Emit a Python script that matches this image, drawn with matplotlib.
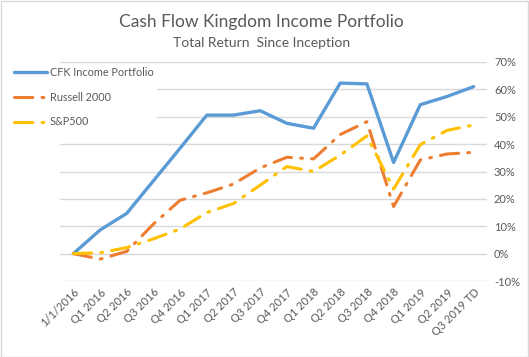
import matplotlib
matplotlib.use("Agg")
import matplotlib.pyplot as plt
from matplotlib.patches import Rectangle

categories = ["1/1/2016", "Q1 2016", "Q2 2016", "Q3 2016", "Q4 2016", "Q1 2017",
              "Q2 2017", "Q3 2017", "Q4 2017", "Q1 2018", "Q2 2018", "Q3 2018",
              "Q4 2018", "Q1 2019", "Q2 2019", "Q3 2019 TD"]
cfk = [0, 8.6, 14.7, 26.6, 38.5, 50.6, 50.6, 52.2, 47.6, 45.8, 62.3, 62.0, 33.3, 54.4, 57.4, 61.0]
russell = [0, -2.0, 0.8, 10.8, 19.5, 22.2, 25.4, 31.3, 35.2, 34.6, 43.5, 48.2, 17.2, 34.2, 36.4, 37.0]
sp500 = [0, 0.3, 2.2, 5.4, 9.0, 15.0, 18.3, 25.0, 31.8, 30.0, 36.0, 43.0, 23.6, 39.8, 45.0, 47.0]
yticks = [-10, 0, 10, 20, 30, 40, 50, 60, 70]

plt.rcParams['font.family'] = ['Lato', 'DejaVu Sans']
grey = "#595959"

fig = plt.figure(figsize=(5.29, 3.57), dpi=100)
ax = fig.add_axes([60/529, 1-281/357, 427/529, 219/357])

x = list(range(len(categories)))
l1, = ax.plot(x, cfk, color="#5B9BD5", lw=2.4, solid_capstyle="round", label="CFK Income Portfolio")
l2, = ax.plot(x, russell, color="#ED7D31", lw=2.2, linestyle=(0, (6, 3, 0.6, 3)),
              dash_capstyle="round", label="Russell 2000")
l3, = ax.plot(x, sp500, color="#FFC000", lw=2.2, linestyle=(0, (6, 3, 0.6, 3)),
              dash_capstyle="round", label="S&P500")

ax.set_xlim(-0.5, len(categories) - 0.5)
ax.set_ylim(-10, 70)
ax.set_yticks(yticks)
ax.set_yticklabels([f"{v}%" for v in yticks])
ax.yaxis.tick_right()
ax.set_xticks(x)
ax.set_xticklabels(categories, rotation=45, ha="right", rotation_mode="anchor")
ax.tick_params(axis="both", length=0, colors=grey, labelsize=8)
ax.tick_params(axis="y", pad=5)
ax.tick_params(axis="x", pad=4)
ax.grid(axis="y", color="#D9D9D9", lw=1)
ax.set_axisbelow(True)
for s in ax.spines.values():
    s.set_visible(False)

fig.text(0.495, 1-22/357, "Cash Flow Kingdom Income Portfolio", ha="center", va="center",
         fontsize=12.5, color=grey)
fig.text(0.495, 1-43/357, "Total Return  Since Inception", ha="center", va="center",
         fontsize=10, color=grey)

leg = fig.legend(handles=[l1, l2, l3], loc="upper left", bbox_to_anchor=(11/529, 1-64/357),
                 frameon=True, fontsize=7.8, handlelength=3.0, handletextpad=0.3,
                 labelspacing=1.25, borderpad=0.3, borderaxespad=0)
leg.get_frame().set_facecolor("white")
leg.get_frame().set_edgecolor("none")
leg.get_frame().set_alpha(1)
for t in leg.get_texts():
    t.set_color(grey)

fig.patches.append(Rectangle((0.5/529, 0.5/357), 1-1.5/529, 1-1.5/357, transform=fig.transFigure,
                             fill=False, edgecolor="#D9D9D9", lw=1))

fig.savefig("out.png", dpi=100)
